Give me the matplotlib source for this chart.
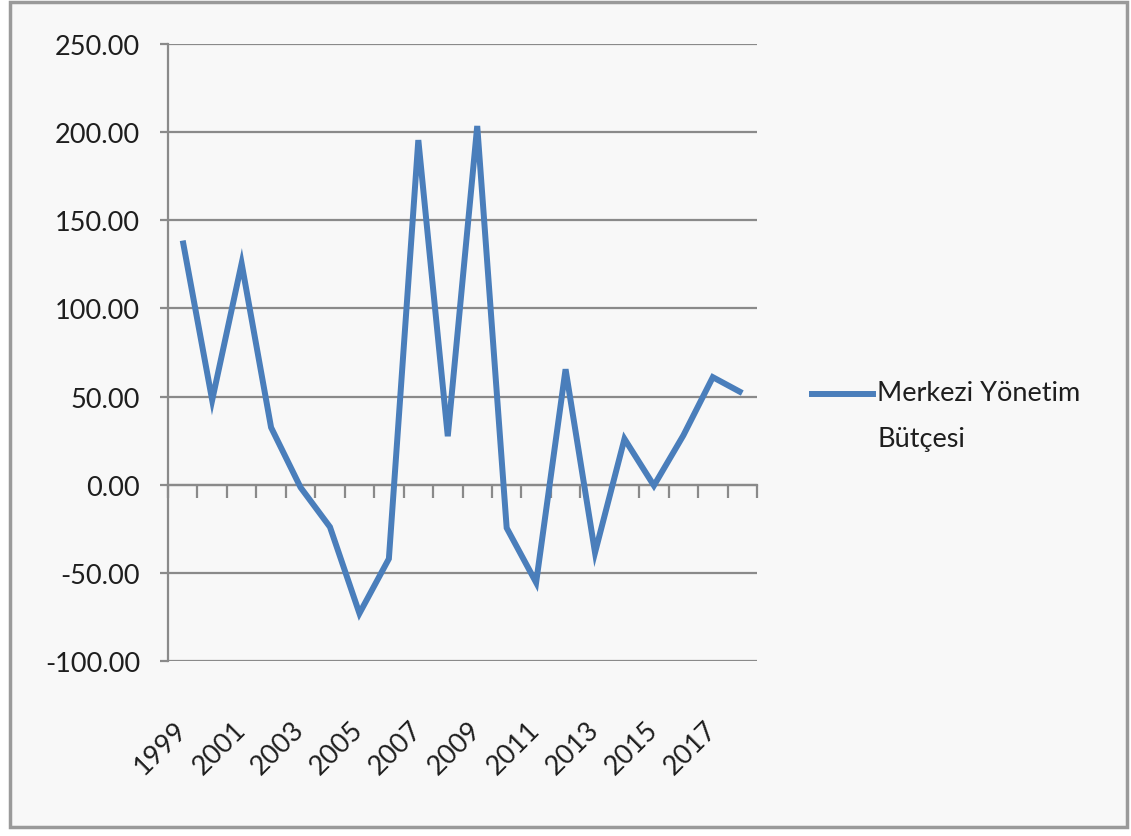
import matplotlib
matplotlib.use("Agg")
import matplotlib.pyplot as plt
from matplotlib.patches import Rectangle
from matplotlib.lines import Line2D
import numpy as np

years = [1999, 2000, 2001, 2002, 2003, 2004, 2005, 2006, 2007, 2008,
         2009, 2010, 2011, 2012, 2013, 2014, 2015, 2016, 2017, 2018]
values = [138.5, 48.0, 125.5, 32.5, -1.5, -24.0, -73.0, -42.0, 195.5, 27.5,
          203.5, -24.5, -55.5, 65.5, -38.5, 26.0, -0.5, 28.0, 61.0, 52.0]
series_name = ["Merkezi Yönetim", "Bütçesi"]
yticks = [-100, -50, 0, 50, 100, 150, 200, 250]

plt.rcParams['font.family'] = ['Lato', 'DejaVu Sans']

W, H = 1131, 837
LINE_COLOR = '#4a7ebb'
TEXT_COLOR = '#1e1e1e'
FS = 19.5
fig = plt.figure(figsize=(W / 100, H / 100), dpi=100)
fig.patch.set_facecolor('white')

# frame
frame = Rectangle((10 / W, 1 - 828 / H), (1127 - 10) / W, (828 - 3) / H,
                  transform=fig.transFigure, facecolor='#f8f8f8',
                  edgecolor='#9a9a9a', linewidth=2.5, zorder=-10)
fig.patches.append(frame)

ax = fig.add_axes([168 / W, 1 - 662 / H, (757 - 168) / W, (662 - 45) / H])
ax.set_facecolor('none')
ax.set_zorder(1)

x = np.arange(len(years))
ax.plot(x, values, color=LINE_COLOR, linewidth=4.3, solid_joinstyle='miter',
        solid_capstyle='butt', zorder=3)

ax.set_xlim(-0.5, len(years) - 0.5)
ax.set_ylim(min(yticks), max(yticks))
ax.set_yticks(yticks)
ax.set_yticklabels([f"{v:.2f}" for v in yticks], fontsize=FS, color=TEXT_COLOR)
ax.yaxis.grid(True, color='#8a8a8a', linewidth=1.6)
ax.set_axisbelow(True)
ax.tick_params(axis='y', length=6, width=1.6, color='#8a8a8a', pad=14)

for s in ['top', 'right']:
    ax.spines[s].set_visible(False)
ax.spines['left'].set_color('#8a8a8a')
ax.spines['left'].set_linewidth(1.6)
ax.spines['bottom'].set_position(('data', 0))
ax.spines['bottom'].set_color('#8a8a8a')
ax.spines['bottom'].set_linewidth(1.6)

ax.set_xticks(np.arange(len(years) + 1) - 0.5)
ax.set_xticklabels([])
ax.tick_params(axis='x', length=9, width=1.6, color='#8a8a8a', direction='out')

sec = ax.secondary_xaxis(0.0)
sec.set_xticks(x[::2])
sec.set_xticklabels([str(y) for y in years[::2]], rotation=45, ha='right',
                    va='center', rotation_mode='anchor', fontsize=FS,
                    color=TEXT_COLOR)
sec.tick_params(length=0, pad=46)
sec.spines['bottom'].set_visible(False)

# legend (handle aligned with first text line, as in the reference)
fig.add_artist(Line2D([812 / W, 873 / W], [1 - 395 / H, 1 - 395 / H],
                      transform=fig.transFigure, color=LINE_COLOR, linewidth=4.3))
fig.text(877 / W, 1 - 394 / H, series_name[0], fontsize=FS, color=TEXT_COLOR,
         ha='left', va='center')
fig.text(877 / W, 1 - 440 / H, series_name[1], fontsize=FS, color=TEXT_COLOR,
         ha='left', va='center')

fig.savefig("out.png", dpi=100, facecolor=fig.get_facecolor())
